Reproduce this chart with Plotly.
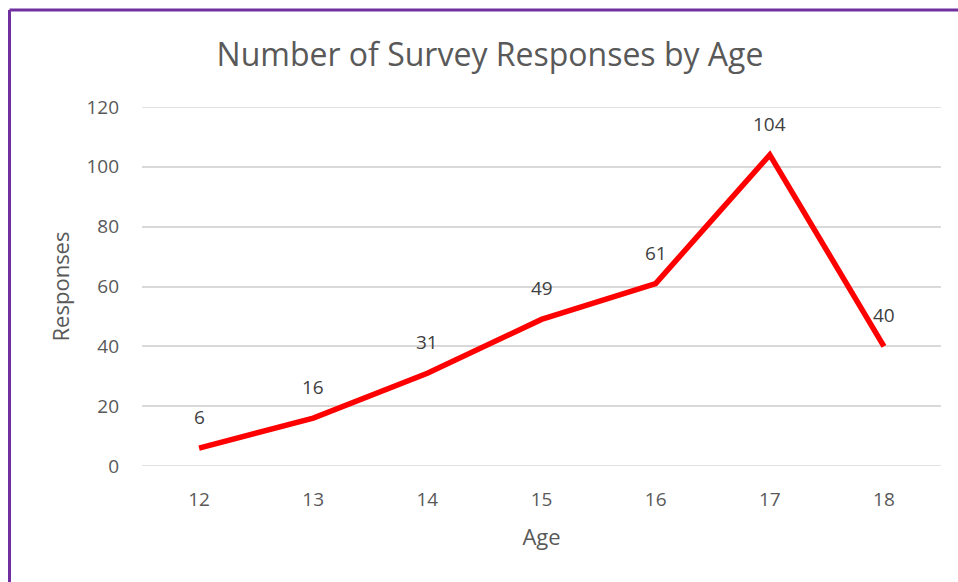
import plotly.graph_objects as go

ages = ["12", "13", "14", "15", "16", "17", "18"]
responses = [6, 16, 31, 49, 61, 104, 40]
y_ticks = [0, 20, 40, 60, 80, 100, 120]

W, H = 958, 582
L, R, T, B = 142, 17, 107, 116
pw, ph = W - L - R, H - T - B

fig = go.Figure()
fig.add_trace(go.Scatter(
    x=ages, y=responses, mode="lines",
    line=dict(color="#FF0000", width=5.5),
    hoverinfo="x+y", showlegend=False,
))
for i, v in enumerate(responses):
    fig.add_annotation(x=i, y=v, xref="x", yref="y", text=str(v), showarrow=False,
                       yshift=31, font=dict(size=19, color="#404040"))

def px_x(p):
    return (p - L) / pw

def px_y(p):
    return 1 - (p - T) / ph

fig.add_shape(type="line", xref="paper", yref="paper",
              x0=px_x(9.5), x1=px_x(W + 5), y0=px_y(10), y1=px_y(10),
              line=dict(color="#7030A0", width=3))
fig.add_shape(type="line", xref="paper", yref="paper",
              x0=px_x(9.5), x1=px_x(9.5), y0=px_y(10), y1=px_y(H + 5),
              line=dict(color="#7030A0", width=3))
for yv in (y_ticks[0], y_ticks[-1]):
    fig.add_shape(type="line", xref="paper", yref="y", x0=0, x1=1, y0=yv, y1=yv,
                  line=dict(color="#D9D9D9", width=1.5), layer="below")

fig.update_layout(
    width=W, height=H,
    margin=dict(l=L, r=R, t=T, b=B),
    paper_bgcolor="white", plot_bgcolor="white",
    font=dict(family="Open Sans, Liberation Sans, sans-serif", color="#595959"),
    title=dict(text="Number of Survey Responses by Age", x=490 / W, xanchor="center",
               y=1 - 55 / H, yanchor="middle",
               font=dict(size=32, color="#595959")),
    xaxis=dict(type="category", range=[-0.5, 6.5], showgrid=False, zeroline=False,
               showline=False, ticks="", tickfont=dict(size=19, color="#595959"),
               ticklabelstandoff=20,
               title=dict(text="Age", font=dict(size=22, color="#595959"), standoff=18)),
    yaxis=dict(range=[0, 120], tickvals=y_ticks, showgrid=True, gridcolor="#D9D9D9",
               gridwidth=1.5, zeroline=False, showline=False, ticks="",
               tickfont=dict(size=19, color="#595959"), ticklabelstandoff=22,
               title=dict(text="Responses", font=dict(size=22, color="#595959"), standoff=10)),
)

fig.write_html("out.html")
